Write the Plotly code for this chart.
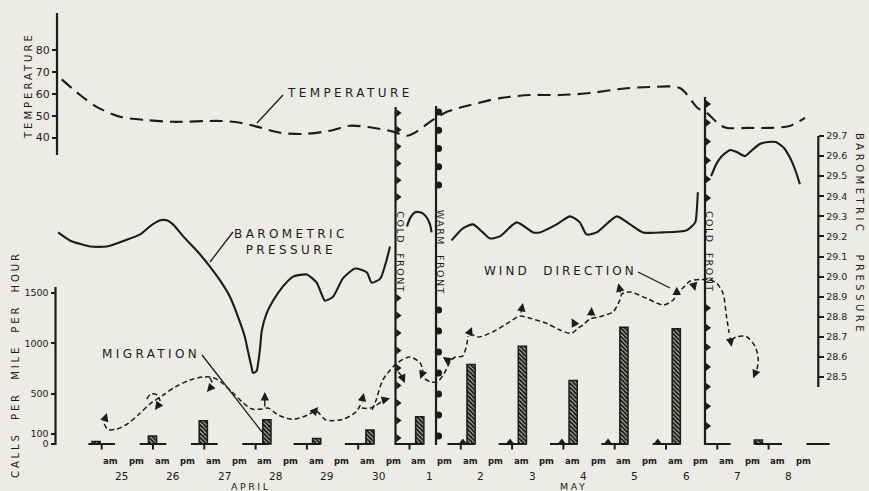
import numpy as np
import plotly.graph_objects as go

W, H = 869, 491
BG = "#ecebe5"
INK = "#1b1b1b"
FONT = "DejaVu Sans"

# ---------------- data ----------------
# time is measured in days after midnight at the start of 25 April
day_labels = ["25", "26", "27", "28", "29", "30", "1", "2", "3", "4", "5", "6", "7", "8"]
half_day_labels = ["am", "pm"]
month_labels = ["APRIL", "MAY"]
month_pos = [2.9, 9.2]

temp_t = [-0.78, -0.42, -0.10, 0.36, 0.88, 1.39, 2.31, 2.70, 3.02, 3.48, 3.92, 4.45, 4.84,
          5.23, 5.68, 5.95, 6.14, 6.40, 6.73, 7.18, 7.76, 8.35, 8.93, 9.52, 10.10, 10.69,
          11.27, 11.62, 11.80, 12.05, 12.19, 12.60, 13.03, 13.41, 13.71]
temp_f = [66.7, 59.5, 54.1, 49.5, 48.0, 47.2, 47.6, 46.8, 45.0, 42.2, 41.6, 43.1, 45.4,
          44.7, 42.7, 40.8, 42.7, 47.2, 51.8, 54.9, 58.1, 59.5, 59.5, 60.4, 62.3, 63.2,
          62.7, 53.5, 51.2, 45.7, 44.4, 44.4, 44.4, 45.3, 49.0]

# barometric pressure (inches), one list per stretch between fronts
pres_a_t = [-0.85, -0.62, -0.23, 0.10, 0.45, 0.75, 0.94, 1.14, 1.27, 1.39, 1.59, 1.85, 2.11,
            2.31, 2.50, 2.70, 2.79, 2.85, 2.92, 2.95, 3.02, 3.05, 3.09, 3.12, 3.22, 3.34,
            3.53, 3.73, 4.00, 4.19, 4.29, 4.35, 4.51, 4.70, 4.94, 5.17, 5.26, 5.43, 5.54, 5.62]
pres_a = [29.22, 29.18, 29.15, 29.15, 29.18, 29.21, 29.25, 29.28, 29.28, 29.26, 29.20, 29.13,
          29.05, 28.98, 28.90, 28.77, 28.70, 28.63, 28.55, 28.52, 28.53, 28.57, 28.65, 28.73,
          28.82, 28.88, 28.95, 29.00, 29.01, 28.97, 28.91, 28.88, 28.90, 28.99, 29.04, 29.02,
          28.97, 28.99, 29.07, 29.15]
pres_b_t = [5.95, 6.01, 6.11, 6.21, 6.32, 6.40, 6.43]
pres_b = [29.25, 29.29, 29.32, 29.32, 29.30, 29.26, 29.22]
pres_c_t = [6.82, 7.04, 7.24, 7.43, 7.57, 7.76, 8.09, 8.41, 8.54, 8.87, 9.13, 9.32, 9.45,
            9.65, 10.04, 10.30, 10.55, 10.94, 11.40, 11.57, 11.60, 11.62]
pres_c = [29.18, 29.24, 29.26, 29.22, 29.19, 29.20, 29.27, 29.22, 29.22, 29.26, 29.30, 29.27,
          29.21, 29.22, 29.30, 29.26, 29.22, 29.22, 29.23, 29.27, 29.33, 29.42]
pres_d_t = [11.88, 11.98, 12.09, 12.25, 12.38, 12.54, 12.68, 12.83, 12.99, 13.14, 13.30,
            13.42, 13.52, 13.61]
pres_d = [29.50, 29.56, 29.60, 29.63, 29.62, 29.60, 29.63, 29.66, 29.67, 29.67, 29.64,
          29.59, 29.53, 29.46]

# migration, calls per mile per hour
bar_t = [-0.11, 0.99, 1.98, 3.22, 4.19, 5.23, 6.20, 7.20, 8.20, 9.19, 10.18, 11.20, 12.80]
bar_calls = [25, 80, 230, 240, 55, 140, 270, 790, 970, 630, 1160, 1145, 40]
trace_t = [7.04, 7.96, 8.97, 9.87, 10.84]
trace_calls = [25, 25, 25, 25, 25]

# fronts
front_t = [5.727, 6.517, 11.76]
front_kind = ["cold", "warm", "cold"]
front_name = ["COLD  FRONT", "WARM  FRONT", "COLD  FRONT"]

# wind direction sketch (height above the migration baseline, arbitrary units)
wind_strokes = [
    ([0.05, 0.12, 0.28, 0.47, 0.71, 0.94, 1.20, 1.45, 1.72, 1.98, 2.17, 2.35, 2.54, 2.74, 2.93,
      3.13, 3.24, 3.44, 3.73, 4.02, 4.18, 4.37, 4.70, 4.96, 5.07],
     [21, 15.5, 15.7, 20, 30, 41, 50, 58.5, 65, 68, 67.5, 62, 53, 43, 36, 36, 37, 30, 25.7, 30,
      34, 25, 25.7, 33.3, 43]),
    ([0.88, 0.96, 1.08, 1.14], [46, 51, 50, 44]),
    ([2.11, 2.17], [67, 61]),
    ([5.07, 5.23, 5.46], [37, 36.7, 43.3]),
    ([5.27, 5.35, 5.48, 5.76, 6.01, 6.21, 6.26], [35, 45, 65, 82, 88, 82, 74]),
    ([5.78, 5.85], [73, 69]),
    ([6.30, 6.40, 6.54, 6.67, 6.79, 6.89, 7.04, 7.12, 7.14], [66, 63.3, 63, 71, 83, 88, 89, 102, 109]),
    ([7.18, 7.34, 7.63, 7.96, 8.15, 8.35, 8.67, 8.93, 9.16, 9.29, 9.38, 9.52, 9.71, 9.97, 10.10,
      10.14, 10.30, 10.62, 10.95, 11.14, 11.23, 11.33, 11.47, 11.66, 11.86, 11.99, 12.11, 12.18, 12.23],
     [112, 108, 113.3, 123.3, 129, 126.7, 121.7, 115, 111.7, 117, 120, 126, 128.3, 133.3, 145,
      151, 153, 146.7, 140, 145, 152, 157, 164, 165.5, 165, 161.7, 151.7, 128.3, 112]),
    ([12.27, 12.38, 12.57, 12.74, 12.80, 12.77], [105, 108.3, 108.3, 98.3, 85, 75]),
]
# arrowheads: tail time, tail height, tip time, tip height
wind_arrows = [
    (0.05, 24, 0.10, 32), (3.18, 37, 3.18, 53), (4.12, 32, 4.22, 38), (5.07, 43, 5.11, 52),
    (1.12, 41, 1.04, 35), (2.15, 59, 2.05, 53), (5.50, 45, 5.62, 46.7), (6.26, 73, 6.21, 66),
    (5.85, 69, 5.91, 62), (7.16, 111, 7.22, 118), (6.79, 83, 6.65, 88), (8.17, 131, 8.21, 142),
    (9.25, 118, 9.16, 126.7), (9.54, 128, 9.55, 138), (10.12, 151, 10.07, 161.7),
    (11.21, 150, 11.21, 158.3), (11.53, 162, 11.57, 154), (12.24, 109, 12.28, 98.3),
    (12.75, 73, 12.70, 66.7),
]

temp_ticks = [40, 50, 60, 70, 80]
calls_ticks = [0, 100, 500, 1000, 1500]
pres_ticks = [29.7, 29.6, 29.5, 29.4, 29.3, 29.2, 29.1, 29.0, 28.9, 28.8, 28.7, 28.6, 28.5]


# ---------------- helpers ----------------
def px(x):
    return x / W


def py(y):
    return 1 - y / H


def y_range(v_a, p_a, v_b, p_b):
    k = (v_b - v_a) / (p_b - p_a)
    return [v_a + (H - p_a) * k, v_a - p_a * k]


def x_range(v_a, p_a, v_b, p_b):
    k = (v_b - v_a) / (p_b - p_a)
    return [v_a - p_a * k, v_a + (W - p_a) * k]


def spaced(s, ls):
    return f'<span style="letter-spacing:{ls}px">{s}</span>'


def joined(parts):
    xs, ys = [], []
    for t, v in parts:
        xs += list(t) + [None]
        ys += list(v) + [None]
    return xs, ys


def label(x, y, text, size, xref="paper", xanchor="center", angle=0, weight="normal"):
    return dict(x=x, y=y, xref=xref, yref="paper", xanchor=xanchor, yanchor="middle",
                text=text, textangle=angle, showarrow=False,
                font=dict(family=FONT, size=size, color=INK, weight=weight))


xr = x_range(0, 101.7, 1, 153.0)
temp_rng = y_range(40, 137.5, 80, 50.4)
calls_rng = y_range(0, 444, 1500, 293)
pres_rng = y_range(28.5, 377, 29.7, 136)
sketch_rng = y_range(0, 445, 100, 345)

fig = go.Figure()

# temperature
fig.add_trace(go.Scatter(x=temp_t, y=temp_f, yaxis="y", mode="lines",
                         line=dict(color=INK, width=2.1, dash="13px,7px", shape="spline", smoothing=0.8)))

# pressure
pt, pv = joined([(pres_a_t, pres_a), (pres_b_t, pres_b), (pres_c_t, pres_c), (pres_d_t, pres_d)])
fig.add_trace(go.Scatter(x=pt, y=pv, yaxis="y3", mode="lines", connectgaps=False,
                         line=dict(color=INK, width=2.1, shape="spline", smoothing=0.6)))

# baseline segments with a tick at each midnight
base_t, base_y = [], []
for k in range(len(day_labels)):
    base_t += [k - 0.26, k + 0.26, None, k, k, None]
    base_y += [0, 0, None, 0, -55, None]
base_t += [len(day_labels) - 0.26, len(day_labels) + 0.19]
base_y += [0, 0]
fig.add_trace(go.Scatter(x=base_t, y=base_y, yaxis="y2", mode="lines",
                         line=dict(color=INK, width=2)))

# migration bars
fig.add_trace(go.Bar(x=bar_t, y=bar_calls, yaxis="y2", width=0.16,
                     marker=dict(color=BG, line=dict(color=INK, width=1.5),
                                 pattern=dict(shape="\\", fgcolor=INK, bgcolor=BG, size=3, solidity=0.75))))
fig.add_trace(go.Scatter(x=trace_t, y=trace_calls, yaxis="y2", mode="markers",
                         marker=dict(symbol="triangle-up", size=6, color=INK)))

# wind direction
wt, wh = joined(wind_strokes)
fig.add_trace(go.Scatter(x=wt, y=wh, yaxis="y4", mode="lines", connectgaps=False,
                         line=dict(color=INK, width=1.5, dash="5px,3px", shape="spline", smoothing=0.8)))

# fronts
front_top = [338, 339, 348]
front_marks = [
    list(np.linspace(332, 248, 6)) + list(np.linspace(147, 7, 9)),
    list(np.linspace(333, 260, 5)) + list(np.linspace(135, 9, 7)),
    list(np.linspace(341, 247, 6)) + list(np.linspace(137, 19, 7)),
]
for t, kind, top, marks in zip(front_t, front_kind, front_top, front_marks):
    fig.add_trace(go.Scatter(x=[t, t], y=[0, top], yaxis="y4", mode="lines",
                             line=dict(color=INK, width=2.2)))
    if kind == "cold":
        fig.add_trace(go.Scatter(x=[t + 0.05] * len(marks), y=marks, yaxis="y4", mode="markers",
                                 marker=dict(symbol="triangle-right", size=7, color=INK)))
    else:
        fig.add_trace(go.Scatter(x=[t + 0.05] * len(marks), y=marks, yaxis="y4", mode="markers",
                                 marker=dict(symbol="circle", size=7, color=INK)))

ann = []
# arrowheads on the wind sketch
for t0, h0, t1, h1 in wind_arrows:
    ann.append(dict(x=t1, y=h1, xref="x", yref="y4", ax=t0, ay=h0, axref="x", ayref="y4",
                    text="", showarrow=True, arrowhead=2, arrowsize=1.2, arrowwidth=1.4,
                    arrowcolor=INK, standoff=0, startstandoff=0))

# front names
for t, name in zip(front_t, front_name):
    ann.append(label(t + 0.1, py(252), spaced(name, 1.5), 9.5, xref="x", angle=90))

# time labels
for k, d in enumerate(day_labels):
    for j, hl in enumerate(half_day_labels):
        ann.append(label(k + 0.18 + 0.5 * j, py(461), hl, 8.5, xref="x", weight="bold"))
    ann.append(label(k + 0.39, py(475.5), d, 10.5, xref="x"))
for m, pos in zip(month_labels, month_pos):
    ann.append(label(pos, py(486), spaced(m, 2.5), 9.5, xref="x"))

# series labels
ann += [
    label(px(285), py(93), spaced("TEMPERATURE", 3.4), 12, xanchor="left"),
    dict(label(px(291), py(242), spaced("BAROMETRIC", 3.4) + "<br>" + spaced("PRESSURE", 3.4), 12),
         align="center"),
    label(px(100), py(354), spaced("MIGRATION", 3.4), 12, xanchor="left"),
    label(px(482), py(271), spaced("WIND  DIRECTION", 3), 12, xanchor="left"),
]
# axis titles
ann += [
    label(px(28), py(86), spaced("TEMPERATURE", 3), 10, angle=-90),
    label(px(15), py(365), spaced("CALLS  PER  MILE  PER  HOUR", 2.9), 10, angle=-90),
    label(px(860), py(234), spaced("BAROMETRIC   PRESSURE", 3.5), 10, angle=90),
]

shapes = []
# axis spines
for x, y0, y1 in [(57, 13, 155), (55.5, 287, 445), (818.3, 136, 387)]:
    shapes.append(dict(type="line", xref="paper", yref="paper", x0=px(x), x1=px(x), y0=py(y0), y1=py(y1),
                       line=dict(color=INK, width=2.2)))
# leader lines
for x0, y0, x1, y1 in [(283, 95, 257, 123), (233, 232, 210, 262), (202, 355, 262, 432), (638, 272, 670, 288)]:
    shapes.append(dict(type="line", xref="paper", yref="paper", x0=px(x0), y0=py(y0), x1=px(x1), y1=py(y1),
                       line=dict(color=INK, width=1.3)))

tick_common = dict(ticks="outside", ticklen=5, tickwidth=1.5, tickcolor=INK, showgrid=False,
                   zeroline=False, showline=False, fixedrange=True, automargin=False)

fig.update_layout(
    width=W, height=H, margin=dict(l=0, r=0, t=0, b=0), template="none",
    paper_bgcolor=BG, plot_bgcolor=BG, showlegend=False, annotations=ann, shapes=shapes,
    xaxis=dict(domain=[0, 1], range=xr, visible=False, fixedrange=True),
    yaxis=dict(domain=[0, 1], range=temp_rng, anchor="free", position=px(57), side="left",
               tickvals=temp_ticks, tickfont=dict(family=FONT, size=11, color=INK), **tick_common),
    yaxis2=dict(domain=[0, 1], range=calls_rng, anchor="free", position=px(55.5), side="left",
                overlaying="y", tickvals=calls_ticks, tickfont=dict(family=FONT, size=9.5, color=INK),
                **tick_common),
    yaxis3=dict(domain=[0, 1], range=pres_rng, anchor="free", position=px(818.3), side="right",
                overlaying="y", tickvals=pres_ticks, ticktext=[f"{v:.1f}" for v in pres_ticks],
                tickfont=dict(family=FONT, size=9.5, color=INK), **tick_common),
    yaxis4=dict(domain=[0, 1], range=sketch_rng, overlaying="y", visible=False, fixedrange=True),
)

fig.write_html("out.html")
